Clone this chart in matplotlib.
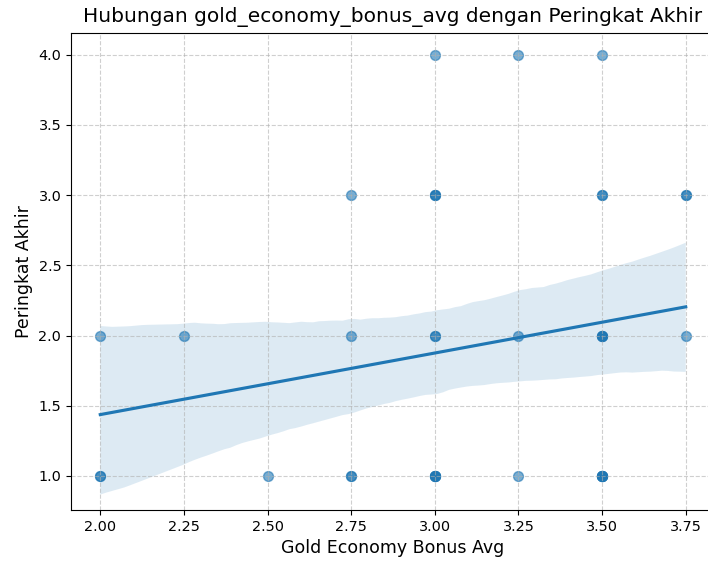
import numpy as np
import pandas as pd
import matplotlib
matplotlib.use("Agg")
import matplotlib.pyplot as plt
import seaborn as sns

# (gold_economy_bonus_avg, peringkat_akhir, jumlah titik yang bertumpuk)
bonus_vals = [2.00, 2.00, 2.25, 2.50, 2.75, 2.75, 2.75,
              3.00, 3.00, 3.00, 3.00, 3.25, 3.25, 3.25,
              3.50, 3.50, 3.50, 3.50, 3.75, 3.75]
rank_vals = [2, 1, 2, 1, 3, 2, 1,
             4, 3, 2, 1, 4, 2, 1,
             4, 3, 2, 1, 3, 2]
counts = [1, 2, 1, 1, 1, 1, 2,
          1, 3, 2, 5, 1, 1, 1,
          1, 2, 4, 6, 2, 1]

df = pd.DataFrame({
    "gold_economy_bonus_avg": np.repeat(bonus_vals, counts),
    "peringkat_akhir": np.repeat(rank_vals, counts),
})

fig = plt.figure(figsize=(7.08, 5.65), dpi=100)
ax = fig.add_axes([71 / 708, 55 / 565, 644 / 708, 477 / 565])

sns.regplot(data=df, x="gold_economy_bonus_avg", y="peringkat_akhir",
            scatter_kws={"alpha": 0.6, "s": 50}, seed=3, ax=ax)

ax.set_ylim(0.757, 4.155)
ax.set_title("Hubungan gold_economy_bonus_avg dengan Peringkat Akhir",
             fontsize=14.5, pad=8)
ax.set_xlabel("Gold Economy Bonus Avg", fontsize=12.5)
ax.set_ylabel("Peringkat Akhir", fontsize=12.5)
ax.tick_params(labelsize=10.4)
ax.grid(True, linestyle="--", alpha=0.6)

fig.savefig("out.png", dpi=100)
